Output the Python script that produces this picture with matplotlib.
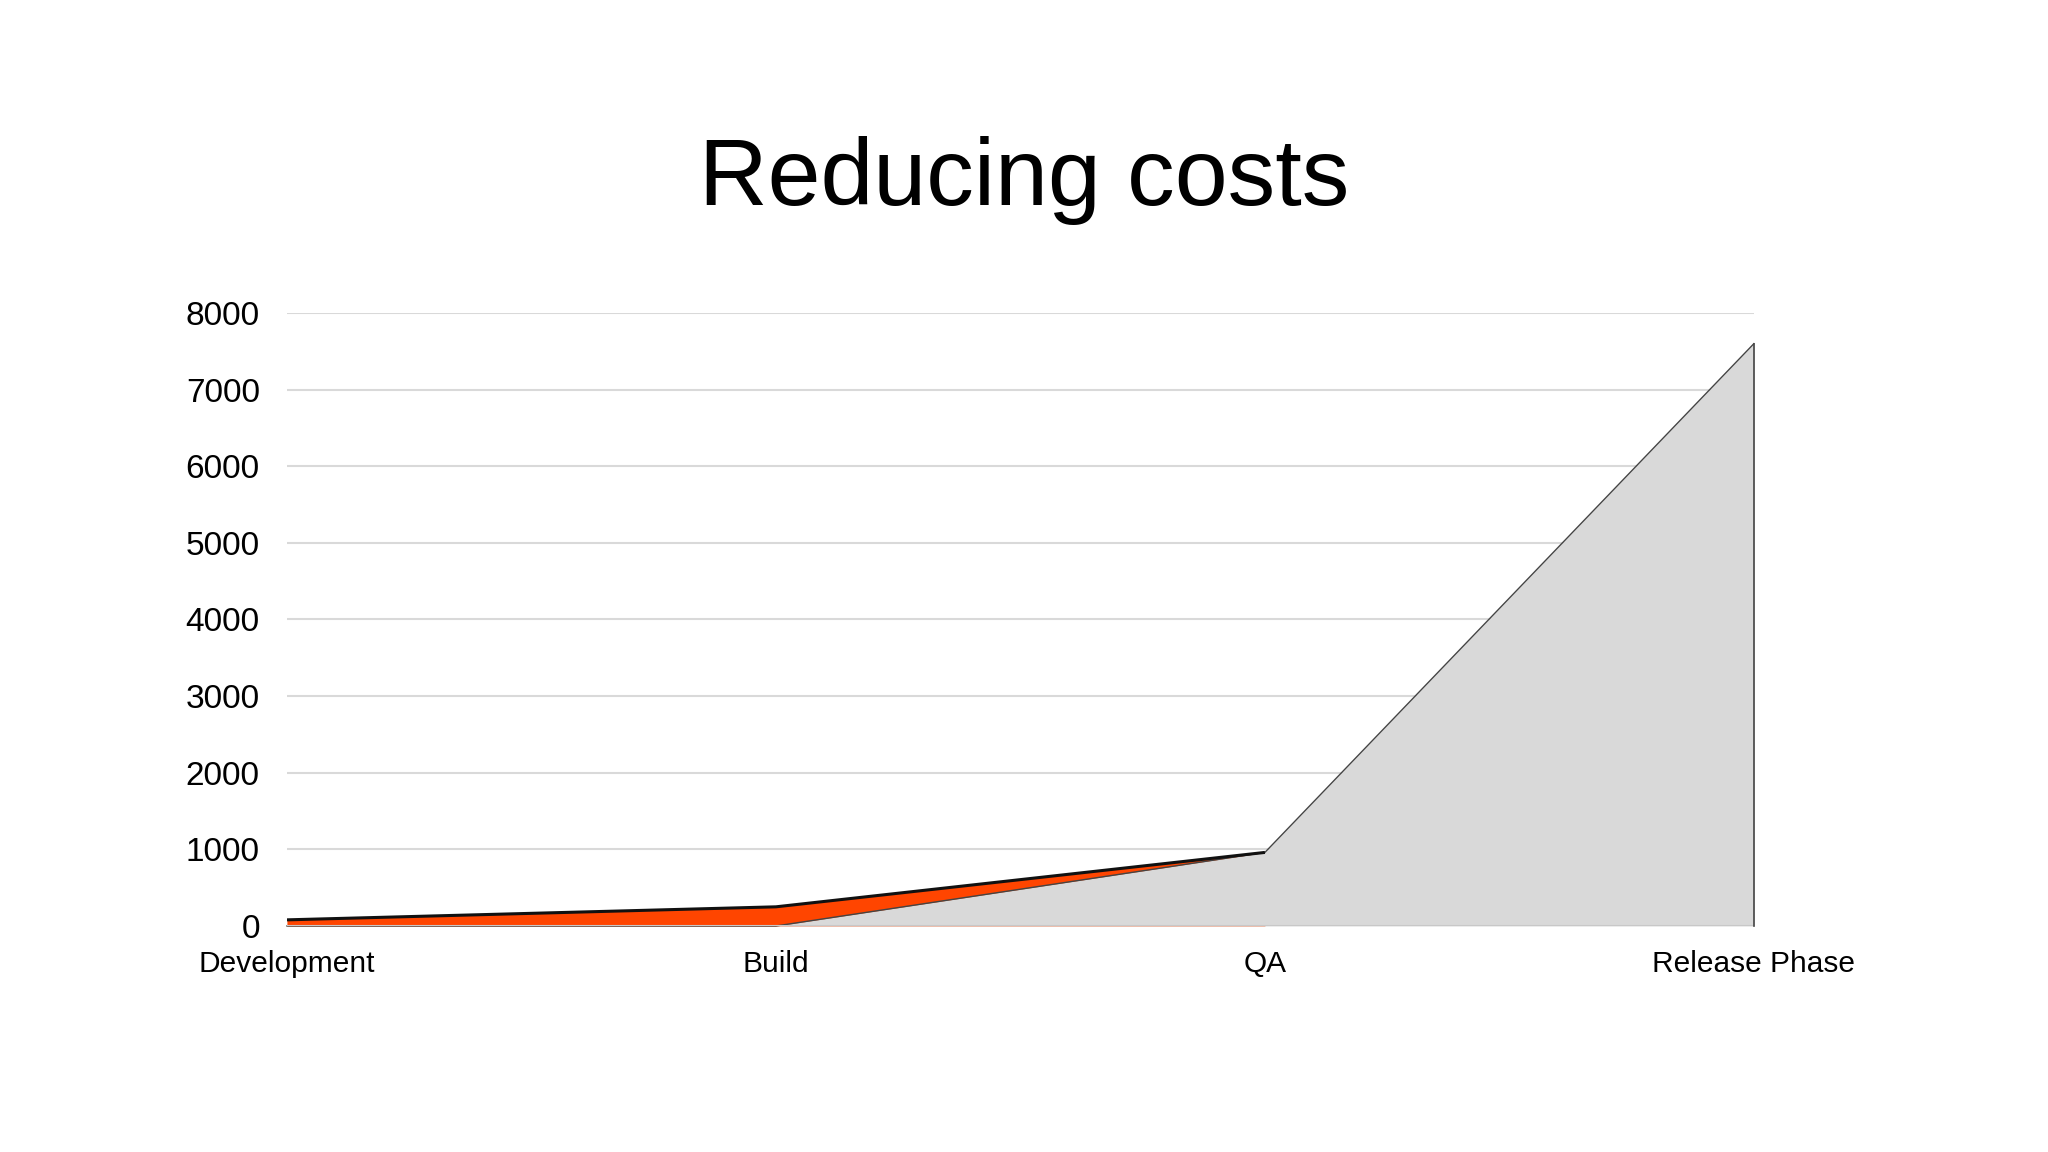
import matplotlib
matplotlib.use("Agg")
import matplotlib.pyplot as plt

categories = ["Development", "Build", "QA", "Release Phase"]
orange_values = [80, 250, 960]
gray_values = [0, 0, 960, 7600]
y_ticks = [0, 1000, 2000, 3000, 4000, 5000, 6000, 7000, 8000]
title = "Reducing costs"

plt.rcParams['font.family'] = ['Liberation Sans', 'DejaVu Sans']

fig = plt.figure(figsize=(20.48, 11.52), dpi=100)
ax = fig.add_axes([0.1401, 0.1962, 0.7163, 0.5321])

xo = list(range(len(orange_values)))
xg = list(range(len(gray_values)))

ax.fill_between(xo, orange_values, 0, color="#ff4500", linewidth=0, zorder=2)
ax.plot(xo, orange_values, color="#111111", linewidth=2.2, zorder=4, solid_capstyle="butt")
ax.fill_between(xg, gray_values, 0, color="#d9d9d9", linewidth=0, zorder=3)
ax.plot(xg, gray_values, color="#444444", linewidth=1.0, zorder=3.5, clip_on=False)
ax.plot([xg[-1], xg[-1]], [0, gray_values[-1]], color="#444444", linewidth=1.2, zorder=6, clip_on=False)

ax.set_xlim(0, len(categories) - 1)
ax.set_ylim(0, 8000)
ax.set_yticks(y_ticks)
ax.set_yticklabels([str(v) for v in y_ticks], fontsize=24)
ax.set_xticks(range(len(categories)))
ax.set_xticklabels(categories, fontsize=21.5)
ax.tick_params(axis='y', length=0, pad=19.5)
ax.tick_params(axis='x', length=0, pad=17)
for s in ax.spines.values():
    s.set_visible(False)
ax.yaxis.grid(True, color="#d9d9d9", linewidth=1.5, zorder=0)
ax.set_axisbelow(True)
ax.axhline(0, color="#c8c8c8", linewidth=1.5, zorder=5)

fig.text(0.5, 1 - 205 / 1152, title, ha='center', va='baseline', fontsize=68.5)

fig.savefig("out.png", dpi=100, facecolor="white")
